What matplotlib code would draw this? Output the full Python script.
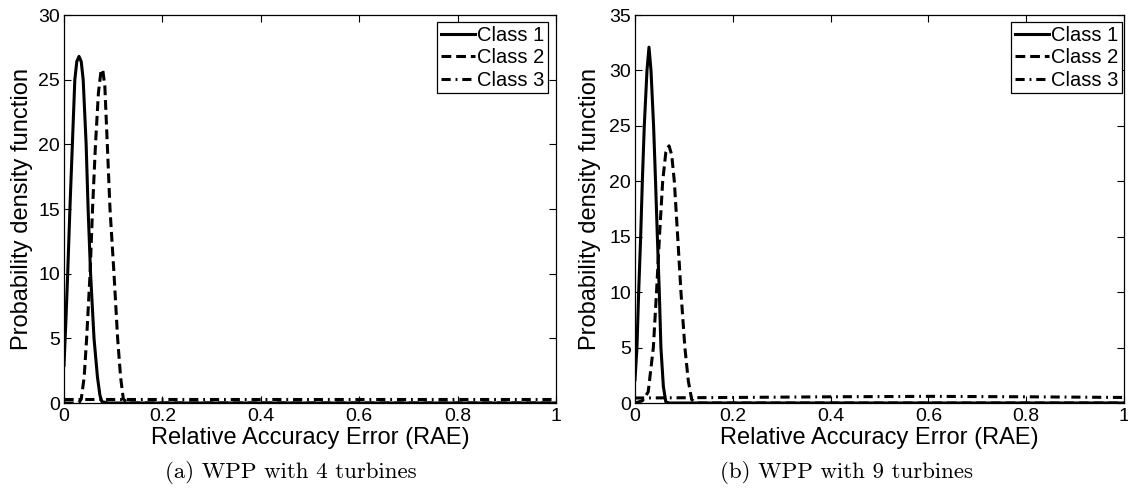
# pdf_rae.py
# PDF of the relative accuracy error per class, WPP with 4 and 9 turbines
import matplotlib
matplotlib.use('Agg')
import matplotlib.pyplot as plt

# ---- (a) WPP with 4 turbines ----
a_c1_x = [0.0, 0.004, 0.0075, 0.012, 0.017, 0.022, 0.026, 0.0305, 0.035, 0.039,
          0.045, 0.049, 0.054, 0.061, 0.068, 0.073, 0.077, 0.09, 1.0]
a_c1_y = [2.9, 6.5, 10.0, 15.0, 20.0, 25.0, 26.4, 26.8, 26.4, 25.0,
          20.0, 15.0, 10.0, 5.0, 2.0, 0.6, 0.1, 0.0, 0.0]

a_c2_x = [0.0, 0.03, 0.035, 0.041, 0.046, 0.053, 0.058, 0.064, 0.07, 0.075,
          0.0786, 0.083, 0.088, 0.0935, 0.1016, 0.109, 0.115, 0.1206, 0.13, 1.0]
a_c2_y = [0.0, 0.0, 0.3, 2.0, 5.0, 10.0, 15.0, 20.0, 24.0, 25.6,
          25.8, 24.5, 20.0, 15.0, 10.0, 5.0, 2.0, 0.3, 0.0, 0.0]

a_c3_x = [0.0, 0.2, 0.4, 0.6, 0.8, 1.0]
a_c3_y = [0.3, 0.3, 0.3, 0.3, 0.3, 0.3]

# ---- (b) WPP with 9 turbines ----
b_c1_x = [0.0, 0.004, 0.0075, 0.0116, 0.015, 0.019, 0.0245, 0.0286, 0.0327, 0.038,
          0.042, 0.0457, 0.0497, 0.053, 0.058, 0.063, 0.07, 1.0]
b_c1_y = [2.1, 5.0, 10.0, 15.0, 20.0, 25.0, 30.0, 32.1, 30.0, 25.0,
          20.0, 15.0, 10.0, 5.0, 1.5, 0.1, 0.0, 0.0]

b_c2_x = [0.0, 0.015, 0.027, 0.0375, 0.044, 0.05, 0.0566, 0.063, 0.0695, 0.075,
          0.0804, 0.0873, 0.094, 0.102, 0.109, 0.116, 0.125, 1.0]
b_c2_y = [0.0, 0.2, 1.0, 5.0, 10.0, 15.0, 20.0, 22.6, 23.2, 22.4,
          20.0, 15.0, 10.0, 5.0, 2.0, 0.3, 0.0, 0.0]

b_c3_x = [0.0, 0.2, 0.4, 0.6, 0.8, 1.0]
b_c3_y = [0.45, 0.5, 0.56, 0.6, 0.56, 0.5]

labels = ['Class 1', 'Class 2', 'Class 3']
captions = ['(a) WPP with 4 turbines', '(b) WPP with 9 turbines']
xticks = [0, 0.2, 0.4, 0.6, 0.8, 1]
xticklabels = ['0', '0.2', '0.4', '0.6', '0.8', '1']

plt.rcParams['font.family'] = ['Liberation Sans', 'DejaVu Sans']
TICK_FS = 14
LEG_FS = 14.5
LAB_FS = 17

fig = plt.figure(figsize=(11.28, 4.91), dpi=100)
ax1 = fig.add_axes([64/1128., 88/491., 492/1128., 388/491.])
ax2 = fig.add_axes([635/1128., 88/491., 489/1128., 388/491.])

def drawPanel(ax, c1, c2, c3, ymax, legAnchor, ylabX):
    ax.plot(c1[0], c1[1], color='k', lw=2.2, ls='-', label=labels[0])
    ax.plot(c2[0], c2[1], color='k', lw=2.2, dashes=(3.2, 1.6), label=labels[1])
    ax.plot(c3[0], c3[1], color='k', lw=2.2, dashes=(3.0, 1.6, 0.6, 1.6), label=labels[2])
    ax.set_xlim(0, 1)
    ax.set_ylim(0, ymax)
    ax.set_xticks(xticks)
    ax.set_xticklabels(xticklabels)
    ax.set_yticks(range(0, ymax + 1, 5))
    ax.tick_params(direction='in', top=True, right=True, length=5, width=0.8,
                   labelsize=TICK_FS, colors='k')
    ax.tick_params(axis='x', pad=3.5)
    ax.tick_params(axis='y', pad=3)
    for s in ax.spines.values():
        s.set_linewidth(0.9)
    ax.set_xlabel('Relative Accuracy Error (RAE)', fontsize=LAB_FS)
    ax.xaxis.set_label_coords(0.5, -0.063)
    ax.set_ylabel('Probability density function', fontsize=LAB_FS)
    ax.yaxis.set_label_coords(ylabX, 0.5)
    leg = ax.legend(loc='upper right', bbox_to_anchor=legAnchor, fontsize=LEG_FS,
                    handlelength=1.7, handletextpad=0.1, labelspacing=0.18,
                    borderpad=0.18, borderaxespad=0.0, fancybox=False,
                    framealpha=1, edgecolor='k')
    leg.get_frame().set_linewidth(0.9)

drawPanel(ax1, (a_c1_x, a_c1_y), (a_c2_x, a_c2_y), (a_c3_x, a_c3_y), 30, (0.984, 0.982), -0.063)
drawPanel(ax2, (b_c1_x, b_c1_y), (b_c2_x, b_c2_y), (b_c3_x, b_c3_y), 35, (0.996, 0.982), -0.070)

fig.text(291/1128., 1 - 472/491., captions[0], family='cmr10', fontsize=16.5,
         ha='center', va='center')
fig.text(847/1128., 1 - 472/491., captions[1], family='cmr10', fontsize=16.5,
         ha='center', va='center')

fig.savefig('out.png', dpi=100)
